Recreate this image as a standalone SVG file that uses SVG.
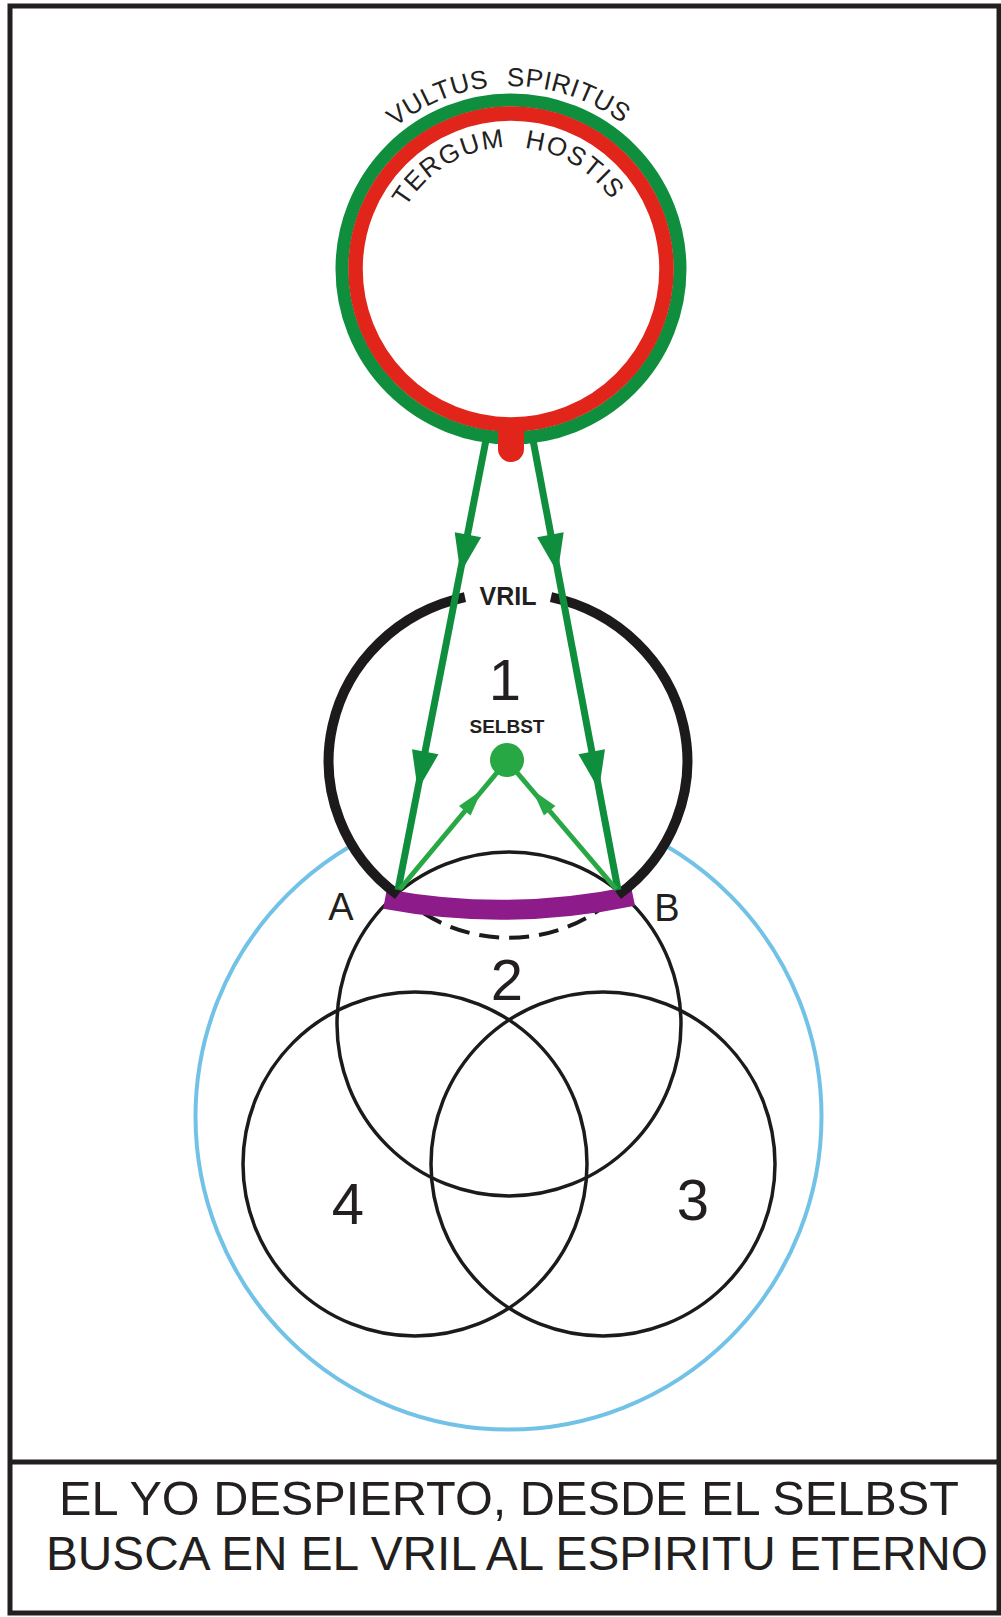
<svg xmlns="http://www.w3.org/2000/svg" xmlns:xlink="http://www.w3.org/1999/xlink" width="1001" height="1617" viewBox="0 0 1001 1617">
<style>
.thin{fill:none;stroke:#1c1a1b;stroke-width:3.5}
.lbl{font-family:"Liberation Sans",Arial,sans-serif;fill:#231f20}
.num{font-size:58px;text-anchor:middle}
.arc{font-family:"Liberation Sans",Arial,sans-serif;font-size:26px;fill:#231f20;letter-spacing:0.5px;word-spacing:10px}
.gl{stroke:#0f8f3e;stroke-width:7;fill:none}
.gl2{stroke:#27a844;stroke-width:5;fill:none}
</style>
<defs>
<path id="ah" d="M0 0 L-13.5 -39 L13.5 -39 Z" fill="#0f8f3e"/>
<path id="ah2" d="M0 0 L-7.5 -27 L7.5 -27 Z" fill="#27a844"/>
<path id="outerArc" d="M 328 269 A 183 183 0 0 1 694 269"/>
<path id="innerArc" d="M 389 269 A 122 122 0 0 1 633 269"/>
</defs>
<rect x="10" y="6" width="989" height="1607" fill="#ffffff" stroke="#231f20" stroke-width="5"/>
<line x1="10" y1="1462" x2="999" y2="1462" stroke="#231f20" stroke-width="5"/>
<g id="outer-field">
<circle cx="508.5" cy="1116.5" r="313" fill="none" stroke="#72c2e8" stroke-width="4"/>
</g>
<g id="circle1-fill">
<ellipse cx="508" cy="760" rx="175" ry="168" fill="#ffffff"/>
</g>
<g id="circle2"><circle cx="509" cy="1024" r="172" class="thin"/></g>
<g id="circle3"><circle cx="603" cy="1164" r="172" class="thin"/></g>
<g id="circle4"><circle cx="415" cy="1164" r="172" class="thin"/></g>
<g id="dashed-arc"><path d="M 400 895 A 160 160 0 0 0 618 895" fill="none" stroke="#1c1a1b" stroke-width="4" stroke-dasharray="20 10"/></g>
<g id="purple-band"><path d="M 385 899 Q 508 922 633 896" fill="none" stroke="#8e1b8a" stroke-width="20"/></g>
<g id="circle1">
<path d="M 465 597.2 A 175 168 0 0 0 398 895" fill="none" stroke="#1c1a1b" stroke-width="10"/>
<path d="M 551 597.2 A 175 168 0 0 1 618 895" fill="none" stroke="#1c1a1b" stroke-width="10"/>
<text class="lbl" x="508" y="605" font-size="25" font-weight="bold" text-anchor="middle">VRIL</text>
<text class="lbl num" x="505" y="700" font-size="60">1</text>
<text class="lbl" x="507" y="733" font-size="19" font-weight="bold" text-anchor="middle">SELBST</text>
</g>
<g id="labels">
<text class="lbl" x="341" y="920" font-size="38" text-anchor="middle">A</text>
<text class="lbl" x="667" y="921" font-size="38" text-anchor="middle">B</text>
<text class="lbl num" x="507" y="1000">2</text>
<text class="lbl num" x="693" y="1220">3</text>
<text class="lbl num" x="348" y="1224">4</text>
</g>
<g id="connectors">
<line class="gl" x1="486" y1="440" x2="398" y2="890"/>
<line class="gl" x1="533" y1="440" x2="618" y2="890"/>
<use xlink:href="#ah" transform="translate(460.4 573) rotate(11.14)"/>
<use xlink:href="#ah" transform="translate(417.7 790) rotate(11.14)"/>
<use xlink:href="#ah" transform="translate(557.7 573) rotate(-10.77)"/>
<use xlink:href="#ah" transform="translate(599 790) rotate(-10.77)"/>
<line class="gl2" x1="400" y1="889" x2="500" y2="769"/>
<line class="gl2" x1="616" y1="889" x2="514" y2="769"/>
<use xlink:href="#ah2" transform="translate(482 790) rotate(219.6)"/>
<use xlink:href="#ah2" transform="translate(532.4 790) rotate(140.2)"/>
</g>
<g id="selbst-dot"><circle cx="507" cy="760" r="17" fill="#27a844"/></g>
<g id="spirit-ring">
<circle cx="511" cy="269" r="169" fill="none" stroke="#0f8f3e" stroke-width="13"/>
<circle cx="511" cy="269" r="155.5" fill="none" stroke="#e1251b" stroke-width="14.5"/>
<path d="M 498 430 L 498 449 A 13 13 0 0 0 524 449 L 524 430 Z" fill="#e1251b"/>
<text class="arc"><textPath xlink:href="#outerArc" startOffset="49.5%" text-anchor="middle">VULTUS SPIRITUS</textPath></text>
<text class="arc" style="letter-spacing:1.5px"><textPath xlink:href="#innerArc" startOffset="49%" text-anchor="middle">TERGUM HOSTIS</textPath></text>
</g>
<g id="caption">
<text class="lbl" x="509" y="1515" font-size="48" text-anchor="middle" textLength="900" lengthAdjust="spacingAndGlyphs">EL YO DESPIERTO, DESDE EL SELBST</text>
<text class="lbl" x="517" y="1570" font-size="48" text-anchor="middle" textLength="942" lengthAdjust="spacingAndGlyphs">BUSCA EN EL VRIL AL ESPIRITU ETERNO</text>
</g>
</svg>
